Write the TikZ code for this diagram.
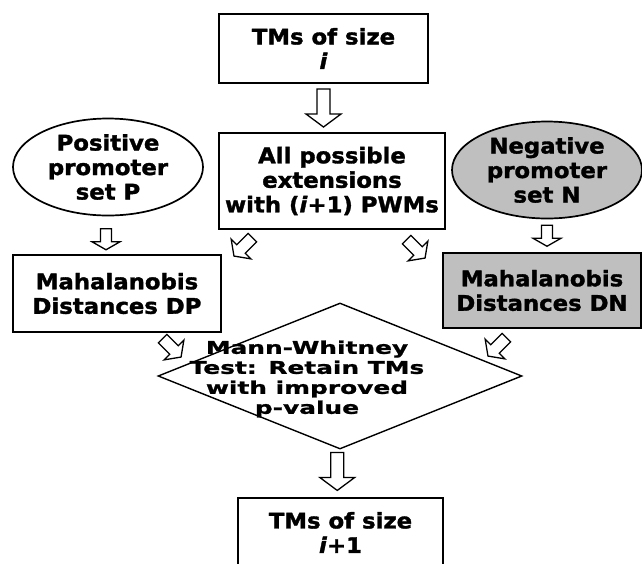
\documentclass[tikz,border=0pt]{standalone}
\usepackage{fontspec}
\newfontfamily\flowfont{DejaVu Sans Bold}[FakeStretch=1.06,FakeBold=1.6,
  ItalicFont={DejaVu Sans Bold Oblique}]
\newfontfamily\testfont{DejaVu Sans Bold}[FakeStretch=1.42,FakeBold=1.2]
\usetikzlibrary{shapes.geometric,calc}

\tikzset{
  stepbox/.style={draw,line width=1.7pt,align=center,inner sep=0pt,
    font=\flowfont\fontsize{21.5}{24.5}\selectfont},
  promoter/.style={stepbox,ellipse,minimum width=190pt,minimum height=97pt},
  decision/.style={draw,line width=1.4pt,diamond,inner sep=0pt,
    minimum width=364pt,minimum height=146pt},
  blockline/.style={draw,line width=1.3pt,fill=white,line join=miter},
  % hollow block arrows, drawn pointing down (+y) and centred on the origin
  pics/bigarrow/.style={code={
    \path[blockline] (-6.5,-19) -- (6.5,-19) -- (6.5,6) -- (17.5,6) -- (0,19)
      -- (-17.5,6) -- (-6.5,6) -- cycle;}},
  pics/smallarrow/.style={code={
    \path[blockline] (-5.5,-10.5) -- (5.5,-10.5) -- (5.5,2.5) -- (14,2.5)
      -- (0,10.5) -- (-14,2.5) -- (-5.5,2.5) -- cycle;}},
  pics/diagarrow/.style={code={
    \path[blockline] (-6,-13) -- (6,-13) -- (6,3) -- (14,3) -- (0,13)
      -- (-14,3) -- (-6,3) -- cycle;}}
}

\begin{document}
\begin{tikzpicture}[x=1pt,y=-1pt]
  \clip (0,0) rectangle (642,563);

  \node[stepbox,minimum width=209pt,minimum height=69pt] (sizei) at (323.5,48.5)
    {TMs of size\\\textit{i}};
  \node[stepbox,minimum width=226pt,minimum height=96pt] (ext) at (332,181)
    {All possible\\extensions\\with (\textit{i}+1) PWMs};
  \node[promoter] (pos) at (108,167) {Positive\\promoter\\set P};
  \node[promoter,fill=gray!50] (neg) at (547,170) {Negative\\promoter\\set N};
  \node[stepbox,minimum width=208pt,minimum height=77pt] (dp) at (117,293.5)
    {Mahalanobis\\Distances DP};
  \node[stepbox,fill=gray!50,minimum width=198pt,minimum height=75pt] (dn) at (542,290.5)
    {Mahalanobis\\Distances DN};

  % the test: text sits left of the diamond's centre
  \node[decision] (test) at (340,376) {};
  \node[align=center,inner sep=0pt,font=\testfont\fontsize{17.5}{20}\selectfont]
    (testtext) at (307,379) {Mann-Whitney\\Test: Retain TMs\\with improved\\p-value};

  \node[stepbox,minimum width=205pt,minimum height=69pt] (sizeii) at (340.5,532.5)
    {TMs of size\\\textit{i}+1};

  % arrows between the steps
  \pic at ($(sizei.south)!0.5!(sizei.south|-ext.north)$) {bigarrow};
  \pic at ($(pos.south)!0.5!(pos.south|-dp.north)+(-2,4)$) {smallarrow};
  \pic at ($(neg.south)!0.5!(neg.south|-dn.north)$) {smallarrow};
  \pic[rotate=-45] at ($(ext.south west)+(25,17)$) {diagarrow};
  \pic[rotate=45] at ($(ext.south east)+(-30,19)$) {diagarrow};
  \pic[rotate=45] at ($(dp.south east)+(-50,15)$) {diagarrow};
  \pic[rotate=-45] at ($(dn.south west)+(55,18)$) {diagarrow};
  \pic at ($(test.south)!0.5!(sizeii.north)+(-3,-2)$) {bigarrow};
\end{tikzpicture}
\end{document}
